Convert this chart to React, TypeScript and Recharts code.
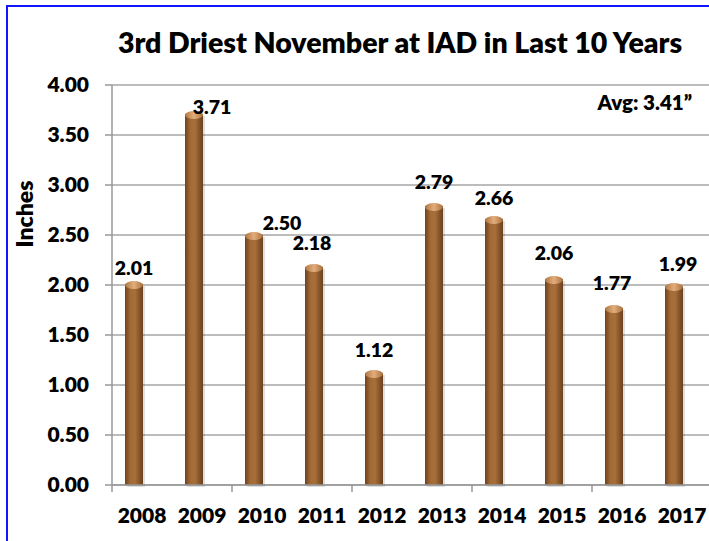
import React from 'react';
import { BarChart, Bar, XAxis, YAxis, CartesianGrid, LabelList } from 'recharts';

const years = ['2008', '2009', '2010', '2011', '2012', '2013', '2014', '2015', '2016', '2017'];
const rainfall = [2.01, 3.71, 2.5, 2.18, 1.12, 2.79, 2.66, 2.06, 1.77, 1.99];
const yTicks = [0, 0.5, 1, 1.5, 2, 2.5, 3, 3.5, 4];
const titleText = '3rd Driest November at IAD in Last 10 Years';
const avgText = 'Avg: 3.41\u201D';
const axisTitle = 'Inches';

// label nudges (style only)
const labelDx = [0, 18, 28, -2, 0, 0, 0, 0, -2, 4];
const labelDy = [7, 16, 11, -1, 0, -1, 2, -3, -2, 1];

const data = years.map((y, i) => ({ year: y, value: rainfall[i] }));

const FONT = 'Lato, "DejaVu Sans", sans-serif';
const W = 800;
const SHIFT = 8;

const CylBar = (p: any) => {
  const { x, y, width, height } = p;
  if (!height || height <= 0) return null;
  const bx = x - SHIFT;
  const cx = bx + width / 2;
  return (
    <g>
      <rect x={bx + 2} y={y + 2} width={width} height={height} fill="#000" opacity={0.12} />
      <rect x={bx} y={y} width={width} height={height} fill="url(#cylBody)" />
      <ellipse cx={cx} cy={y + 1} rx={width / 2} ry={4} fill="url(#cylCap)" />
    </g>
  );
};

const DataLabel = (p: any) => {
  const { x, y, width, value, index } = p;
  const cx = x - SHIFT + width / 2 + labelDx[index];
  const cy = y - 23 + labelDy[index];
  return (
    <text x={cx} y={cy} dy="0.36em" textAnchor="middle" fontFamily={FONT} fontWeight={W} fontSize={19.5} fill="#000">
      {Number(value).toFixed(2)}
    </text>
  );
};

const XTick = (p: any) => {
  const { x, y, payload, index, width } = p;
  const half = (width || 600) / years.length / 2;
  return (
    <g>
      {index % 2 === 0 && (
        <line x1={x - half} x2={x - half} y1={y - 23} y2={y - 16} stroke="#999" strokeWidth={1.5} />
      )}
      {index === years.length - 1 && (
        <line x1={x + half} x2={x + half} y1={y - 23} y2={y - 16} stroke="#999" strokeWidth={1.5} />
      )}
      <text x={x} y={y} dy="0.71em" textAnchor="middle" fontFamily={FONT} fontWeight={W} fontSize={21} fill="#000">
        {payload.value}
      </text>
    </g>
  );
};

export default function App() {
  return (
    <div style={{ position: 'fixed', left: 0, top: 0, width: 709, height: 541, overflow: 'hidden', background: '#fff' }}>
      <div
        style={{
          position: 'absolute',
          left: 6,
          top: 5,
          width: 900,
          height: 900,
          borderLeft: '2px solid #1414ff',
          borderTop: '2px solid #1414ff',
        }}
      />
      <div style={{ position: 'absolute', left: 0, top: 0 }}>
        <BarChart width={720} height={541} data={data} margin={{ top: 85, right: 8, left: 0, bottom: 16 }} barSize={18}>
          <defs>
            <linearGradient id="cylBody" x1="0" y1="0" x2="1" y2="0">
              <stop offset="0%" stopColor="#6e431f" />
              <stop offset="30%" stopColor="#a36a36" />
              <stop offset="55%" stopColor="#a86f3b" />
              <stop offset="100%" stopColor="#6a401c" />
            </linearGradient>
            <linearGradient id="cylCap" x1="0" y1="0" x2="1" y2="0">
              <stop offset="0%" stopColor="#b07844" />
              <stop offset="50%" stopColor="#e2ad7c" />
              <stop offset="100%" stopColor="#a9713e" />
            </linearGradient>
          </defs>
          <CartesianGrid vertical={false} stroke="#a6a6a6" strokeWidth={1.5} />
          <XAxis
            dataKey="year"
            height={40}
            tickLine={false}
            tickSize={0}
            tickMargin={23}
            axisLine={{ stroke: '#999', strokeWidth: 1.5 }}
            tick={<XTick />}
            interval={0}
          />
          <YAxis
            width={112}
            domain={[0, 4]}
            ticks={yTicks}
            interval={0}
            tickSize={7}
            tickMargin={16}
            tickFormatter={(v: number) => v.toFixed(2)}
            axisLine={{ stroke: '#999', strokeWidth: 1.5 }}
            tickLine={{ stroke: '#999', strokeWidth: 1.5 }}
            tick={{ fontFamily: FONT, fontWeight: W, fontSize: 21, fill: '#000' }}
          />
          <Bar dataKey="value" shape={<CylBar />} isAnimationActive={false}>
            <LabelList dataKey="value" content={<DataLabel />} />
          </Bar>
        </BarChart>
      </div>
      <svg width={709} height={541} style={{ position: 'absolute', left: 0, top: 0, pointerEvents: 'none' }}>
        <text x={400} y={53} textAnchor="middle" fontFamily={FONT} fontWeight={W} fontSize={28.5} fill="#000">
          {titleText}
        </text>
        <text x={692} y={110} textAnchor="end" fontFamily={FONT} fontWeight={W} fontSize={20.5} fill="#000">
          {avgText}
        </text>
        <text transform="translate(33,214) rotate(-90)" textAnchor="middle" fontFamily={FONT} fontWeight={W} fontSize={23} fill="#000">
          {axisTitle}
        </text>
      </svg>
    </div>
  );
}
